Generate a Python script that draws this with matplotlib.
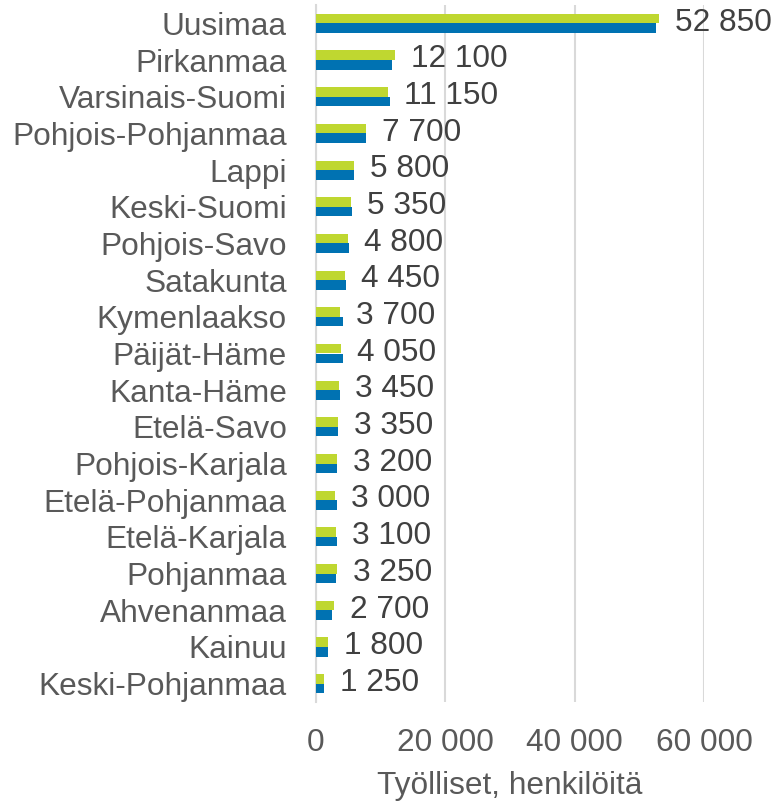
import numpy as np
import matplotlib
matplotlib.use('Agg')
from matplotlib import pyplot as plt

regions = ['Uusimaa', 'Pirkanmaa', 'Varsinais-Suomi', 'Pohjois-Pohjanmaa', 'Lappi',
           'Keski-Suomi', 'Pohjois-Savo', 'Satakunta', 'Kymenlaakso', 'Päijät-Häme',
           'Kanta-Häme', 'Etelä-Savo', 'Pohjois-Karjala', 'Etelä-Pohjanmaa',
           'Etelä-Karjala', 'Pohjanmaa', 'Ahvenanmaa', 'Kainuu', 'Keski-Pohjanmaa']
green_vals = [53000, 12200, 11200, 7750, 5850, 5350, 4900, 4500, 3700, 3900,
              3500, 3350, 3200, 3000, 3100, 3300, 2750, 1850, 1300]
blue_vals = [52600, 11800, 11400, 7750, 5950, 5600, 5050, 4650, 4200, 4200,
             3650, 3400, 3300, 3250, 3250, 3150, 2550, 1900, 1300]
value_labels = ['52 850', '12 100', '11 150', '7 700', '5 800', '5 350', '4 800',
                '4 450', '3 700', '4 050', '3 450', '3 350', '3 200', '3 000',
                '3 100', '3 250', '2 700', '1 800', '1 250']
xticks = [0, 20000, 40000, 60000]
xtick_labels = ['0', '20 000', '40 000', '60 000']

plt.rcParams['font.family'] = ['Liberation Sans', 'DejaVu Sans']
fs = 22.8

fig = plt.figure(figsize=(7.75, 8.02), dpi=100)
ax = fig.add_axes([316/775, 1 - 702/802, (704 - 316)/775, 697/802])

y = np.arange(len(regions))
h = 0.26
ax.barh(y - h/2, green_vals, height=h, color='#BFD730', zorder=3)
ax.barh(y + h/2, blue_vals, height=h, color='#0072B2', zorder=3)

px = 72 / 100
for yi, v, lab in zip(y, green_vals, value_labels):
    ax.annotate(lab, (v, yi - h/2), xytext=(16 * px, -4 * px), textcoords='offset points',
                ha='left', va='center', fontsize=fs, color='#404040', clip_on=False)

ax.set_ylim(len(regions) - 0.5, -0.5)
ax.set_xlim(0, 60000)
ax.set_yticks(y)
ax.set_yticklabels(regions, fontsize=fs, color='#595959')
ax.set_xticks(xticks)
ax.set_xticklabels(xtick_labels, fontsize=fs, color='#595959')
ax.tick_params(axis='y', length=0, pad=21)
ax.tick_params(axis='x', length=0, pad=19)
ax.grid(axis='x', color='#D9D9D9', linewidth=1.5, zorder=0)
for s in ['top', 'right', 'bottom']:
    ax.spines[s].set_visible(False)
ax.spines['left'].set_color('#D9D9D9')
ax.spines['left'].set_linewidth(1.5)
ax.set_xlabel('Työlliset, henkilöitä', fontsize=fs, color='#595959', labelpad=9)

fig.savefig('out.png', dpi=100)
